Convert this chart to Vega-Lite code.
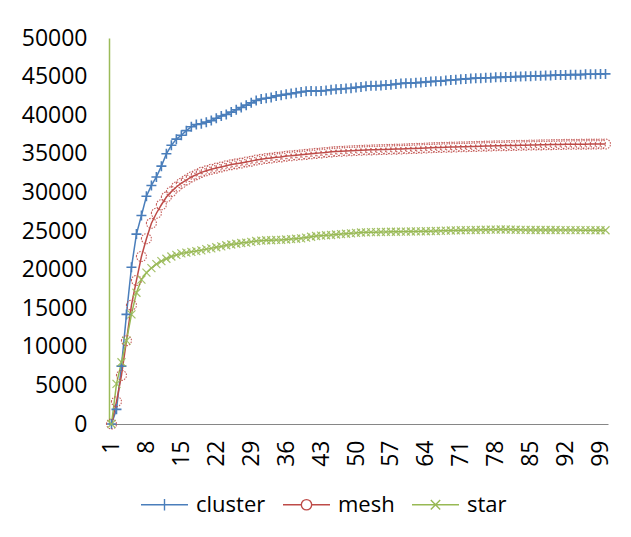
{
  "$schema": "https://vega.github.io/schema/vega-lite/v6.json",
  "width": 499,
  "height": 386,
  "autosize": {"type": "none"},
  "padding": {"left": 109, "top": 38, "right": 23, "bottom": 113},
  "background": "white",
  "config": {"view": {"stroke": null}, "font": "Open Sans"},
  "data": {"values": [
    {"x":1,"cluster":0,"mesh":0,"star":0},
    {"x":2,"cluster":1900,"mesh":2900,"star":5200},
    {"x":3,"cluster":7500,"mesh":6300,"star":8000},
    {"x":4,"cluster":14200,"mesh":10800,"star":10800},
    {"x":5,"cluster":20300,"mesh":15400,"star":14200},
    {"x":6,"cluster":24600,"mesh":18600,"star":17000},
    {"x":7,"cluster":27000,"mesh":21700,"star":18700},
    {"x":8,"cluster":29500,"mesh":24000,"star":19600},
    {"x":9,"cluster":30900,"mesh":26000,"star":20200},
    {"x":10,"cluster":32000,"mesh":27300,"star":20700},
    {"x":11,"cluster":33400,"mesh":28400,"star":21100},
    {"x":12,"cluster":35000,"mesh":29400,"star":21400},
    {"x":13,"cluster":36100,"mesh":30100,"star":21700},
    {"x":14,"cluster":36900,"mesh":30700,"star":21900},
    {"x":15,"cluster":37400,"mesh":31200,"star":22100},
    {"x":16,"cluster":38000,"mesh":31600,"star":22200},
    {"x":17,"cluster":38500,"mesh":32000,"star":22300},
    {"x":18,"cluster":38800,"mesh":32300,"star":22400},
    {"x":19,"cluster":38900,"mesh":32600,"star":22500},
    {"x":20,"cluster":39100,"mesh":32800,"star":22650},
    {"x":21,"cluster":39300,"mesh":33000,"star":22750},
    {"x":22,"cluster":39600,"mesh":33150,"star":22900},
    {"x":23,"cluster":39900,"mesh":33300,"star":23000},
    {"x":24,"cluster":40100,"mesh":33450,"star":23150},
    {"x":25,"cluster":40400,"mesh":33600,"star":23250},
    {"x":26,"cluster":40700,"mesh":33700,"star":23350},
    {"x":27,"cluster":41000,"mesh":33800,"star":23450},
    {"x":28,"cluster":41300,"mesh":33950,"star":23500},
    {"x":29,"cluster":41600,"mesh":34050,"star":23600},
    {"x":30,"cluster":41900,"mesh":34200,"star":23700},
    {"x":31,"cluster":42100,"mesh":34300,"star":23750},
    {"x":32,"cluster":42200,"mesh":34400,"star":23800},
    {"x":33,"cluster":42300,"mesh":34450,"star":23800},
    {"x":34,"cluster":42500,"mesh":34550,"star":23850},
    {"x":35,"cluster":42600,"mesh":34600,"star":23850},
    {"x":36,"cluster":42700,"mesh":34700,"star":23900},
    {"x":37,"cluster":42800,"mesh":34750,"star":23950},
    {"x":38,"cluster":42900,"mesh":34820,"star":24000},
    {"x":39,"cluster":43000,"mesh":34870,"star":24050},
    {"x":40,"cluster":43100,"mesh":34930,"star":24150},
    {"x":41,"cluster":43150,"mesh":35000,"star":24250},
    {"x":42,"cluster":43100,"mesh":35060,"star":24350},
    {"x":43,"cluster":43150,"mesh":35120,"star":24400},
    {"x":44,"cluster":43200,"mesh":35180,"star":24450},
    {"x":45,"cluster":43300,"mesh":35250,"star":24480},
    {"x":46,"cluster":43350,"mesh":35290,"star":24550},
    {"x":47,"cluster":43400,"mesh":35330,"star":24600},
    {"x":48,"cluster":43450,"mesh":35370,"star":24650},
    {"x":49,"cluster":43500,"mesh":35400,"star":24700},
    {"x":50,"cluster":43600,"mesh":35430,"star":24750},
    {"x":51,"cluster":43650,"mesh":35460,"star":24800},
    {"x":52,"cluster":43750,"mesh":35490,"star":24830},
    {"x":53,"cluster":43800,"mesh":35510,"star":24850},
    {"x":54,"cluster":43800,"mesh":35530,"star":24850},
    {"x":55,"cluster":43850,"mesh":35550,"star":24870},
    {"x":56,"cluster":43900,"mesh":35570,"star":24880},
    {"x":57,"cluster":43950,"mesh":35590,"star":24900},
    {"x":58,"cluster":44050,"mesh":35610,"star":24900},
    {"x":59,"cluster":44100,"mesh":35630,"star":24910},
    {"x":60,"cluster":44150,"mesh":35650,"star":24920},
    {"x":61,"cluster":44150,"mesh":35680,"star":24930},
    {"x":62,"cluster":44200,"mesh":35700,"star":24950},
    {"x":63,"cluster":44250,"mesh":35730,"star":24960},
    {"x":64,"cluster":44300,"mesh":35760,"star":24970},
    {"x":65,"cluster":44350,"mesh":35790,"star":24980},
    {"x":66,"cluster":44400,"mesh":35810,"star":25000},
    {"x":67,"cluster":44400,"mesh":35830,"star":25020},
    {"x":68,"cluster":44500,"mesh":35850,"star":25040},
    {"x":69,"cluster":44550,"mesh":35870,"star":25060},
    {"x":70,"cluster":44600,"mesh":35890,"star":25080},
    {"x":71,"cluster":44650,"mesh":35910,"star":25100},
    {"x":72,"cluster":44700,"mesh":35920,"star":25110},
    {"x":73,"cluster":44750,"mesh":35940,"star":25120},
    {"x":74,"cluster":44800,"mesh":35960,"star":25130},
    {"x":75,"cluster":44800,"mesh":35980,"star":25150},
    {"x":76,"cluster":44850,"mesh":36000,"star":25160},
    {"x":77,"cluster":44850,"mesh":36020,"star":25170},
    {"x":78,"cluster":44900,"mesh":36040,"star":25180},
    {"x":79,"cluster":44900,"mesh":36050,"star":25200},
    {"x":80,"cluster":44950,"mesh":36060,"star":25200},
    {"x":81,"cluster":44950,"mesh":36080,"star":25180},
    {"x":82,"cluster":45000,"mesh":36090,"star":25160},
    {"x":83,"cluster":45000,"mesh":36110,"star":25150},
    {"x":84,"cluster":45050,"mesh":36120,"star":25140},
    {"x":85,"cluster":45050,"mesh":36140,"star":25130},
    {"x":86,"cluster":45100,"mesh":36150,"star":25130},
    {"x":87,"cluster":45100,"mesh":36160,"star":25130},
    {"x":88,"cluster":45150,"mesh":36180,"star":25130},
    {"x":89,"cluster":45150,"mesh":36190,"star":25130},
    {"x":90,"cluster":45200,"mesh":36200,"star":25130},
    {"x":91,"cluster":45200,"mesh":36210,"star":25120},
    {"x":92,"cluster":45200,"mesh":36230,"star":25120},
    {"x":93,"cluster":45250,"mesh":36240,"star":25120},
    {"x":94,"cluster":45250,"mesh":36240,"star":25120},
    {"x":95,"cluster":45250,"mesh":36250,"star":25110},
    {"x":96,"cluster":45300,"mesh":36250,"star":25110},
    {"x":97,"cluster":45300,"mesh":36260,"star":25110},
    {"x":98,"cluster":45300,"mesh":36260,"star":25100},
    {"x":99,"cluster":45350,"mesh":36270,"star":25100},
    {"x":100,"cluster":45350,"mesh":36270,"star":25100}
  ]},
  "transform": [{"fold": ["cluster", "mesh", "star"], "as": ["series", "value"]}],
  "encoding": {
    "x": {
      "field": "x", "type": "quantitative",
      "scale": {"domain": [0.5, 100.5], "nice": false, "zero": false},
      "axis": {
        "title": null, "values": [1,8,15,22,29,36,43,50,57,64,71,78,85,92,99],
        "labelAngle": -90, "labelFontSize": 23, "labelColor": "#000000",
        "ticks": false, "tickSize": 0, "grid": false, "domainColor": "#868686", "domainWidth": 1,
        "labelPadding": 16, "labelFlush": false, "labelOverlap": false
      }
    },
    "y": {
      "field": "value", "type": "quantitative",
      "scale": {"domain": [0, 50000], "nice": false},
      "axis": {
        "title": null, "values": [0,5000,10000,15000,20000,25000,30000,35000,40000,45000,50000],
        "format": "d", "labelFontSize": 23, "labelColor": "#000000",
        "ticks": false, "tickSize": 0, "grid": false, "domainColor": "#9bbb59", "domainWidth": 1.5,
        "labelPadding": 22, "labelFlush": false, "labelOverlap": false
      }
    }
  },
  "layer": [
    {
      "mark": {"type": "line", "strokeWidth": 1.5},
      "encoding": {
        "color": {
          "field": "series", "type": "nominal",
          "scale": {"domain": ["cluster", "mesh", "star"], "range": ["#4a7ebb", "#be4b48", "#98b954"]},
          "legend": {
            "title": null, "orient": "none", "direction": "horizontal",
            "legendX": 31, "legendY": 442, "padding": 0,
            "symbolSize": 2209, "symbolStrokeWidth": 1.4,
            "labelFontSize": 22, "labelColor": "#000000", "labelOffset": 7, "columnPadding": 14,
            "encode": {
              "symbols": {
                "update": {
                  "shape": {"signal": "datum.value === 'cluster' ? 'M-1,0L1,0M0,-0.24L0,0.24' : datum.value === 'mesh' ? 'M-1,0L-0.22,0M0.22,0L1,0M-0.22,0A0.22,0.22 0 1,1 0.22,0A0.22,0.22 0 1,1 -0.22,0' : 'M-1,0L1,0M-0.2,-0.2L0.2,0.2M-0.2,0.2L0.2,-0.2'"},
                  "fill": {"value": "transparent"}
                }
              }
            }
          }
        }
      }
    },
    {
      "transform": [{"filter": "datum.series === 'cluster'"}],
      "mark": {"type": "point", "filled": false, "color": "#4a7ebb", "strokeWidth": 1.6, "size": 100, "opacity": 1, "shape": "M0,-1L0,1M-1,0L1,0"}
    },
    {
      "transform": [{"filter": "datum.series === 'mesh'"}],
      "mark": {"type": "point", "filled": false, "color": "#c0504d", "strokeWidth": 1.1, "size": 100, "opacity": 0.9, "strokeDash": [1.5, 1.2], "shape": "M-1,0A1,1 0 1,1 1,0A1,1 0 1,1 -1,0"}
    },
    {
      "transform": [{"filter": "datum.series === 'star'"}],
      "mark": {"type": "point", "filled": false, "color": "#9bbb59", "strokeWidth": 1.2, "size": 100, "opacity": 0.9, "shape": "M-0.8,-0.8L0.8,0.8M-0.8,0.8L0.8,-0.8"}
    }
  ]
}
